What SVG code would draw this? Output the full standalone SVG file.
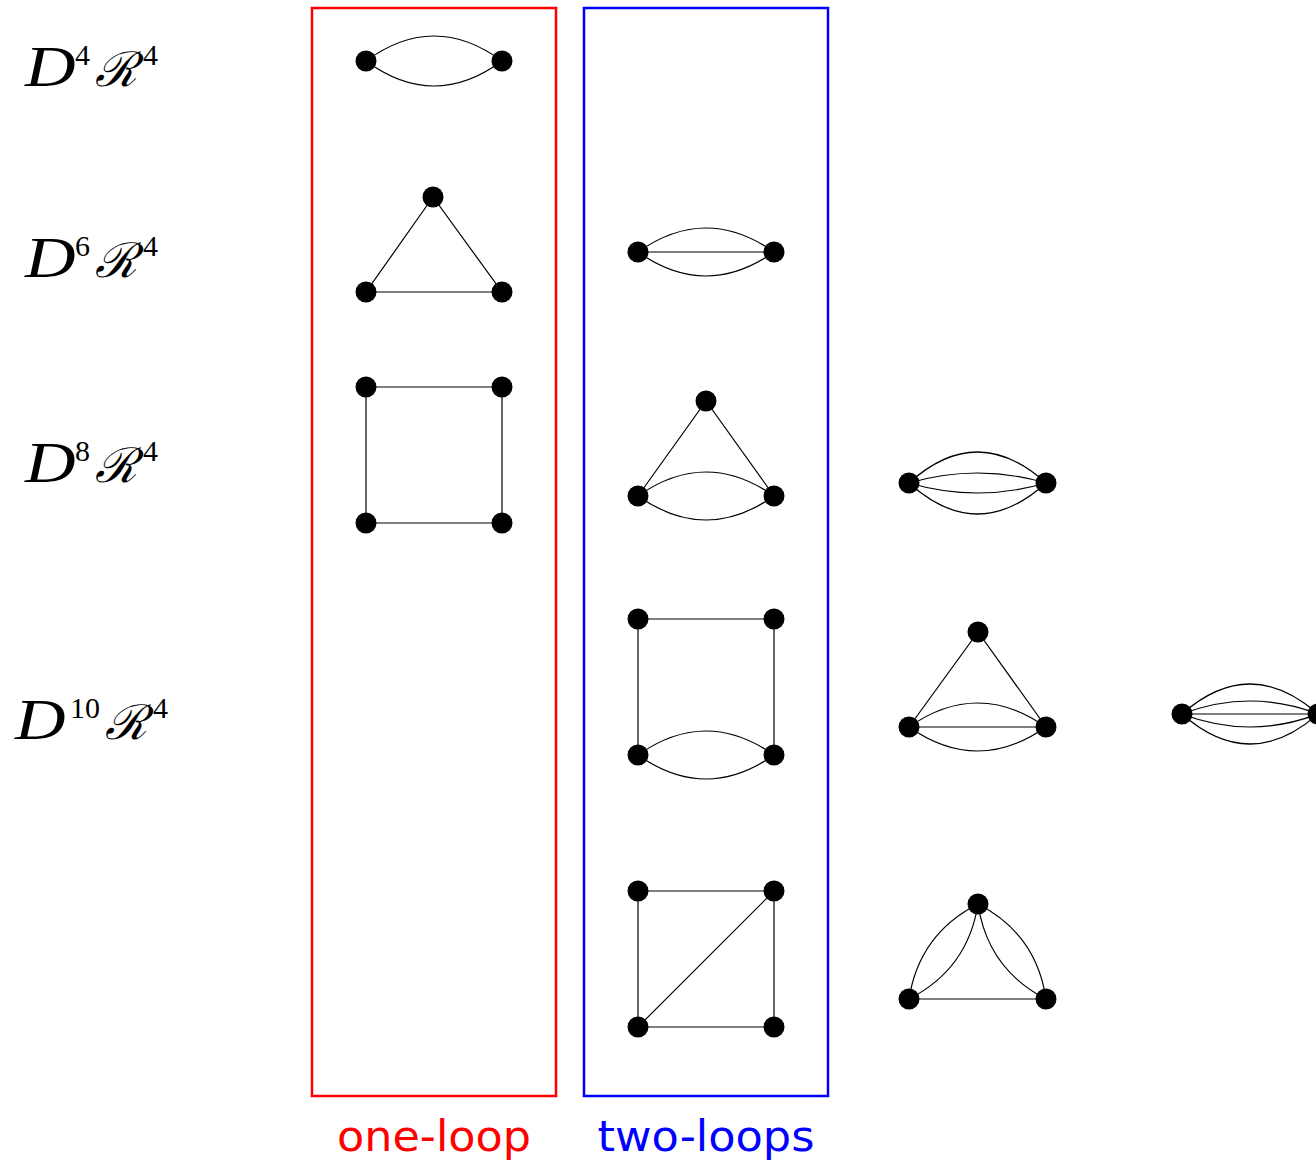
<svg xmlns="http://www.w3.org/2000/svg" width="1316" height="1163" viewBox="0 0 1316 1163">
<style>
.n{fill:#000}
.e{fill:none;stroke:#000;stroke-width:1.2}
.d{font-family:"Liberation Serif","DejaVu Serif",serif;font-size:56px;font-style:italic;fill:#000}
.cal{font-family:"DejaVu Serif",serif;font-style:italic;font-size:48px;fill:#000}
.sup{font-family:"Liberation Serif",serif;font-size:30px;fill:#000}
.cap{font-family:"DejaVu Sans","Liberation Sans",sans-serif;font-size:42px}
</style>
<rect width="1316" height="1163" fill="#fff"/>
<g id="labels">
<g id="l4"><text class="d" transform="translate(25 86) scale(1.25 1)">D</text><text class="sup" x="75" y="65">4</text><text class="cal" x="95" y="86">ℛ</text><text class="sup" x="143" y="65">4</text></g>
<g id="l6"><text class="d" transform="translate(25 277) scale(1.25 1)">D</text><text class="sup" x="75" y="256">6</text><text class="cal" x="95" y="277">ℛ</text><text class="sup" x="143" y="256">4</text></g>
<g id="l8"><text class="d" transform="translate(25 482) scale(1.25 1)">D</text><text class="sup" x="75" y="461">8</text><text class="cal" x="95" y="482">ℛ</text><text class="sup" x="143" y="461">4</text></g>
<g id="l10"><text class="d" transform="translate(15 739) scale(1.25 1)">D</text><text class="sup" x="70" y="718">10</text><text class="cal" x="105" y="739">ℛ</text><text class="sup" x="153" y="718">4</text></g>
</g>
<g id="boxes">
<rect id="one-loop-box" x="312" y="8" width="244" height="1088" fill="none" stroke="#f00" stroke-width="2.5"/>
<rect id="two-loops-box" x="584" y="8" width="244" height="1088" fill="none" stroke="#00f" stroke-width="2.5"/>
<text id="one-loop" x="434" y="1151" text-anchor="middle" class="cap" fill="#f00" textLength="194" lengthAdjust="spacingAndGlyphs">one-loop</text>
<text id="two-loops" x="706" y="1151" text-anchor="middle" class="cap" fill="#00f" textLength="217" lengthAdjust="spacingAndGlyphs">two-loops</text>
</g>
<g id="connectors">
<path class="e" d="M366 61Q434 11 502 61M366 61Q434 111 502 61"/>
<path class="e" d="M433 197L366 292L502 292Z"/>
<path class="e" d="M366 387H502V523H366Z"/>
<path class="e" d="M638 252Q706 204 774 252M638 252Q706 300 774 252M638 252H774"/>
<path class="e" d="M638 496L706 401L774 496M638 496Q706 448 774 496M638 496Q706 544 774 496"/>
<path class="e" d="M638 755V619H774V755M638 755Q706 707 774 755M638 755Q706 803 774 755"/>
<path class="e" d="M638 891H774V1027H638ZM638 1027L774 891"/>
<path class="e" d="M909 483Q977.5 421 1046 483M909 483Q977.5 545 1046 483M909 483Q977.5 463 1046 483M909 483Q977.5 503 1046 483"/>
<path class="e" d="M909 727L978 632L1046 727M909 727H1046M909 727Q977.5 679 1046 727M909 727Q977.5 775 1046 727"/>
<path class="e" d="M909 999H1046M978 904Q919.2 933.9 909 999M978 904Q967.8 969.1 909 999M978 904Q1036.4 934 1046 999M978 904Q987.6 969 1046 999"/>
<path class="e" d="M1182 714H1318M1182 714Q1250 654 1318 714M1182 714Q1250 774 1318 714M1182 714Q1250 688 1318 714M1182 714Q1250 740 1318 714"/>
</g>
<g id="nodes" class="n">
<g id="a1"><circle cx="366" cy="61" r="10.5"/><circle cx="502" cy="61" r="10.5"/></g>
<g id="a2"><circle cx="433" cy="197" r="10.5"/><circle cx="366" cy="292" r="10.5"/><circle cx="502" cy="292" r="10.5"/></g>
<g id="a3"><circle cx="366" cy="387" r="10.5"/><circle cx="502" cy="387" r="10.5"/><circle cx="366" cy="523" r="10.5"/><circle cx="502" cy="523" r="10.5"/></g>
<g id="b1"><circle cx="638" cy="252" r="10.5"/><circle cx="774" cy="252" r="10.5"/></g>
<g id="b2"><circle cx="706" cy="401" r="10.5"/><circle cx="638" cy="496" r="10.5"/><circle cx="774" cy="496" r="10.5"/></g>
<g id="b3"><circle cx="638" cy="619" r="10.5"/><circle cx="774" cy="619" r="10.5"/><circle cx="638" cy="755" r="10.5"/><circle cx="774" cy="755" r="10.5"/></g>
<g id="b4"><circle cx="638" cy="891" r="10.5"/><circle cx="774" cy="891" r="10.5"/><circle cx="638" cy="1027" r="10.5"/><circle cx="774" cy="1027" r="10.5"/></g>
<g id="c1"><circle cx="909" cy="483" r="10.5"/><circle cx="1046" cy="483" r="10.5"/></g>
<g id="c2"><circle cx="978" cy="632" r="10.5"/><circle cx="909" cy="727" r="10.5"/><circle cx="1046" cy="727" r="10.5"/></g>
<g id="c3"><circle cx="978" cy="904" r="10.5"/><circle cx="909" cy="999" r="10.5"/><circle cx="1046" cy="999" r="10.5"/></g>
<g id="d1"><circle cx="1182" cy="714" r="10.5"/><circle cx="1318" cy="714" r="10.5"/></g>
</g>
</svg>
